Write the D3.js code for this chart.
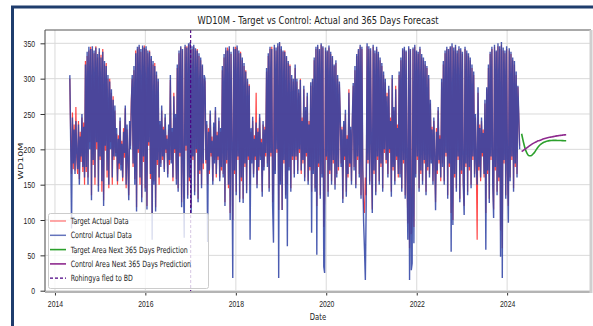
<!DOCTYPE html>
<meta charset="utf-8">
<style>

body { margin: 0; background: #fff; }
svg { display: block; font-family: "DejaVu Sans", sans-serif; }

.grid line {
  stroke: #dadada;
  stroke-width: 1;
}

.axis path { display: none; }
.axis line { stroke: #333; }
.axis text { fill: #222; font-size: 9.5px; }

</style>
<svg width="593" height="326"></svg>
<script src="https://d3js.org/d3.v7.min.js"></script>
<script>

// weekly values, each list runs from 1 May to late April of the next year
var seriesStart = "2014-05-01", stepDays = 7;

var control2014 = [305,210,88,245,180,228,165,240,195,172,235,150,218,190,250,175,232,160,
  320,175,338,150,345,200,342,128,346,185,340,160,344,210,335,140,343,190,330,155,338,120,325,205,318,170,305,150,296,200,285,160,270,190];
var control2015 = [262,190,230,155,215,180,245,170,208,160,225,195,262,150,235,185,128,240,200,
  265,305,180,318,150,336,112,345,200,348,160,342,125,347,190,344,140,346,115,340,210,338,165,332,72,325,150,318,112,310,185,300,160];
var control2016 = [240,175,262,190,228,168,250,200,215,160,235,185,305,180,230,160,275,200,250,150,
  320,140,340,195,346,118,342,175,75,348,205,344,130,350,160,352,110,346,190,348,135,343,200,340,125,336,170,330,145,320,180,305];
var control2017 = [300,185,240,69,225,170,255,195,212,150,238,180,260,165,220,190,245,155,230,175,
  318,160,335,120,344,185,340,150,346,100,338,205,18,345,170,342,135,347,190,340,125,336,160,330,124,322,180,310,138,300,190,290];
var control2018 = [72,230,180,246,160,215,190,238,145,225,175,250,185,210,133,240,170,228,195,
  315,175,336,140,345,195,342,120,68,348,165,344,200,350,18,352,150,346,114,340,185,338,130,332,63,325,170,318,140,305,190,300,160];
var control2019 = [320,190,300,165,285,200,298,170,240,185,290,155,260,195,280,150,235,175,295,82,
  300,165,330,140,345,51,348,180,342,130,350,160,346,34,25,344,190,340,133,347,170,338,150,332,185,320,143,326,160,305,175,296];
var control2020 = [250,175,228,124,240,190,256,133,215,165,280,180,232,150,245,
  294,170,318,145,335,190,342,160,348,130,345,175,97,58,15,128,350,185,346,150,343,200,110,348,170,340,135,345,190,338,150,330,180,322,140,310,200];
var control2021 = [300,185,275,160,290,200,240,133,305,175,260,150,285,190,230,165,
  310,160,330,140,343,185,345,130,340,175,72,346,15,342,29,39,344,67,348,160,340,190,338,140,345,170,335,150,330,185,325,135,318,175,305,160];
var control2022 = [270,180,228,150,245,195,114,225,170,260,185,215,160,
  300,175,325,150,340,195,345,130,342,180,346,55,350,93,344,165,348,140,340,190,346,125,343,170,338,150,107,345,180,340,135,336,175,330,145,320,190,310,160];
var control2023 = [250,180,150,288,175,230,160,245,195,223,165,270,58,
  288,170,320,124,338,190,345,150,103,348,175,340,135,350,160,346,48,352,18,344,185,340,130,346,170,96,343,155,338,190,330,140,325,180,310,160,290,250,200];

var target2014 = [300,218,165,252,172,235,170,260,188,165,240,158,225,182,245,168,238,150,
  325,168,332,160,340,210,345,135,342,178,336,150,346,200,330,148,338,185,334,140,342,128,320,198,322,160,300,145,300,210,280,150,275,185];
var target2015 = [255,195,222,150,220,172,240,178,212,155,230,188,258,145,228,178,135,235,205,
  270,300,175,312,158,340,118,342,195,345,150,338,132,344,182,347,145,342,120,336,205,340,158,328,110,320,155,322,118,305,178,296,150];
var target2016 = [235,180,255,185,232,172,245,195,220,165,228,178,298,185,225,155,280,195,245,158,
  315,145,336,190,344,125,340,168,130,345,198,346,135,348,155,350,118,342,185,345,140,340,195,342,130,332,165,326,150,318,172,300];
var target2017 = [295,180,235,150,230,165,250,190,218,155,232,185,255,160,225,185,240,160,225,170,
  312,165,330,125,340,180,344,145,342,110,335,200,100,342,165,345,140,344,185,336,130,338,155,326,130,318,175,312,142,296,185,292];
var target2018 = [150,225,185,240,165,220,185,280,150,230,170,245,190,215,140,235,175,232,190,
  310,180,332,145,342,190,345,125,150,344,170,340,195,346,114,350,155,342,114,338,180,340,135,330,150,322,175,320,145,300,185,296,165];
var target2019 = [315,185,296,170,280,195,300,165,245,180,285,160,255,190,275,155,240,170,290,140,
  296,170,326,145,342,120,345,175,340,135,348,165,344,90,130,340,185,338,140,344,165,335,155,330,180,318,150,322,165,300,170,292];
var target2020 = [245,180,232,130,235,185,250,140,220,160,285,175,228,155,240,
  290,175,312,150,332,185,340,165,345,135,342,170,120,110,160,135,346,180,342,155,340,195,115,345,165,336,140,342,185,335,155,326,175,318,145,305,195];
var target2021 = [295,180,280,165,285,195,245,140,300,170,255,155,290,185,235,160,
  305,165,326,145,340,180,342,135,338,170,95,343,60,340,80,110,342,90,345,165,338,185,335,145,342,165,330,155,326,180,320,140,315,170,300,165];
var target2022 = [265,185,232,155,240,190,125,230,165,255,180,220,155,
  295,180,320,155,336,190,342,135,340,175,344,110,346,100,340,160,345,145,336,185,342,130,340,165,335,155,120,342,175,336,140,332,170,326,150,315,185,305,165];
var target2023 = [245,185,72,280,170,235,155,240,190,228,160,265,110,
  285,165,315,130,335,185,342,155,115,345,170,338,140,346,155,342,85,348,60,340,180,336,135,342,165,120,340,160,335,185,326,145,320,175,305,165,288,245,205];

// next 365 days, one value every 15 days
var forecastStart = "2024-04-27", forecastStepDays = 15;
var targetForecast = [222,210,200,194,191,191,193,196,200,203.5,206.5,208.5,210,211,211.8,212.3,212.6,212.7,212.7,212.6,212.5,212.4,212.3,212.2,212.1];
var controlForecast = [197,198.5,200.5,202.5,204.5,206.3,208,209.5,210.8,212,213,214,214.9,215.7,216.4,217,217.5,218,218.5,219,219.4,219.8,220.1,220.4,220.6];

var eventDate = "2017-01-01";
var xTickYears = [2014, 2016, 2018, 2020, 2022, 2024];
var yTicks = [0, 50, 100, 150, 200, 250, 300, 350];
var legendItems = [
  {label: "Target Actual Data", color: "#ff1a1a", opacity: 0.5, width: 1.5, dash: null},
  {label: "Control Actual Data", color: "#3245a6", opacity: 0.75, width: 1.5, dash: null},
  {label: "Target Area Next 365 Days Prediction", color: "#2ca02c", opacity: 1, width: 1.6, dash: null},
  {label: "Control Area Next 365 Days Prediction", color: "#8e2a8e", opacity: 1, width: 1.6, dash: null},
  {label: "Rohingya fled to BD", color: "#4b0082", opacity: 1, width: 1.2, dash: "3,2"}
];

var svg = d3.select("svg"),
    plotLeft = 45, plotRight = 591, plotTop = 30, plotBottom = 292,
    sx = 0.72;   // the picture is squeezed sideways

var parse = d3.timeParse("%Y-%m-%d");

function weekly(values, start, step) {
  return values.map(function(v, i) {
    return {date: d3.timeDay.offset(parse(start), i * step), value: v};
  });
}

var control = weekly([].concat(control2014, control2015, control2016, control2017, control2018,
  control2019, control2020, control2021, control2022, control2023), seriesStart, stepDays);
var target = weekly([].concat(target2014, target2015, target2016, target2017, target2018,
  target2019, target2020, target2021, target2022, target2023), seriesStart, stepDays);
var tFore = weekly(targetForecast, forecastStart, forecastStepDays);
var cFore = weekly(controlForecast, forecastStart, forecastStepDays);

var all = control.concat(target, tFore, cFore);
var dExt = d3.extent(all, function(d) { return +d.date; }),
    vExt = d3.extent(all, function(d) { return d.value; });
var dPad = (dExt[1] - dExt[0]) * 0.05, vPad = (vExt[1] - vExt[0]) * 0.05;

var x = d3.scaleTime()
    .domain([new Date(dExt[0] - dPad), new Date(dExt[1] + dPad)])
    .range([plotLeft, plotRight]);
var y = d3.scaleLinear()
    .domain([vExt[0] - vPad, vExt[1] + vPad])
    .range([plotBottom, plotTop]);

// outer frame
svg.append("rect")
    .attr("x", 12.5).attr("y", 7)
    .attr("width", 700).attr("height", 400)
    .attr("fill", "none")
    .attr("stroke", "#1f3d6d")
    .attr("stroke-width", 3);

svg.append("clipPath").attr("id", "plot")
  .append("rect")
    .attr("x", plotLeft).attr("y", plotTop)
    .attr("width", plotRight - plotLeft).attr("height", plotBottom - plotTop);

var xDates = xTickYears.map(function(yr) { return new Date(yr, 0, 1); });

// grid
var grid = svg.append("g").attr("class", "grid");
grid.selectAll(".gx").data(xDates).enter().append("line")
    .attr("x1", function(d) { return x(d); }).attr("x2", function(d) { return x(d); })
    .attr("y1", plotTop).attr("y2", plotBottom);
grid.selectAll(".gy").data(yTicks).enter().append("line")
    .attr("x1", plotLeft).attr("x2", plotRight)
    .attr("y1", function(d) { return y(d); }).attr("y2", function(d) { return y(d); });

var line = d3.line()
    .x(function(d) { return x(d.date); })
    .y(function(d) { return y(d.value); });
var smooth = d3.line()
    .curve(d3.curveMonotoneX)
    .x(function(d) { return x(d.date); })
    .y(function(d) { return y(d.value); });

var plot = svg.append("g").attr("clip-path", "url(#plot)");

plot.append("path").datum(target)
    .attr("fill", "none")
    .attr("stroke", "#ff1a1a")
    .attr("stroke-opacity", 0.8)
    .attr("stroke-width", 1.2)
    .attr("d", line);

plot.append("path").datum(control)
    .attr("fill", "none")
    .attr("stroke", "#3245a6")
    .attr("stroke-opacity", 0.88)
    .attr("stroke-width", 1.4)
    .attr("d", line);

plot.append("path").datum(tFore)
    .attr("fill", "none")
    .attr("stroke", "#2ca02c")
    .attr("stroke-width", 1.6)
    .attr("d", smooth);

plot.append("path").datum(cFore)
    .attr("fill", "none")
    .attr("stroke", "#8e2a8e")
    .attr("stroke-width", 1.6)
    .attr("d", smooth);

plot.append("line")
    .attr("x1", x(parse(eventDate))).attr("x2", x(parse(eventDate)))
    .attr("y1", plotTop).attr("y2", plotBottom)
    .attr("stroke", "#4b0082")
    .attr("stroke-width", 1.1)
    .attr("stroke-dasharray", "3,2");

// axes
var xAxis = svg.append("g")
    .attr("class", "axis")
    .attr("transform", "translate(0," + plotBottom + ")")
    .call(d3.axisBottom(x).tickValues(xDates).tickFormat(d3.timeFormat("%Y"))
      .tickSize(3.5).tickPadding(5).tickSizeOuter(0));
xAxis.selectAll("text").attr("transform", "scale(" + sx + ",1)");

var yAxis = svg.append("g")
    .attr("class", "axis")
    .attr("transform", "translate(" + plotLeft + ",0)")
    .call(d3.axisLeft(y).tickValues(yTicks).tickSize(4.5).tickSizeOuter(0));
yAxis.selectAll("text")
    .attr("x", -10 / sx)
    .attr("transform", "scale(" + sx + ",1)");

// spines
svg.append("line").attr("x1", plotLeft).attr("x2", plotLeft).attr("y1", plotTop).attr("y2", plotBottom)
    .attr("stroke", "#444").attr("stroke-width", 1);
svg.append("line").attr("x1", plotLeft).attr("x2", plotRight).attr("y1", plotTop).attr("y2", plotTop)
    .attr("stroke", "#555").attr("stroke-width", 1);
svg.append("line").attr("x1", plotLeft).attr("x2", plotRight).attr("y1", plotBottom).attr("y2", plotBottom)
    .attr("stroke", "#b4b4b4").attr("stroke-width", 2);
svg.append("line").attr("x1", plotRight).attr("x2", plotRight).attr("y1", plotTop).attr("y2", plotBottom + 1)
    .attr("stroke", "#cfcfcf").attr("stroke-width", 3);

// title and labels
svg.append("text")
    .attr("x", (plotLeft + plotRight) / 2).attr("y", 24)
    .attr("text-anchor", "middle")
    .attr("font-size", 10)
    .attr("fill", "#222")
    .attr("textLength", 241)
    .attr("lengthAdjust", "spacingAndGlyphs")
    .text("WD10M - Target vs Control: Actual and 365 Days Forecast");

svg.append("text")
    .attr("transform", "translate(" + (plotLeft + plotRight) / 2 + ",320) scale(" + sx + ",1)")
    .attr("text-anchor", "middle")
    .attr("font-size", 9.5)
    .attr("fill", "#222")
    .text("Date");

svg.append("text")
    .attr("transform", "translate(23," + (plotTop + plotBottom) / 2 + ") scale(" + sx + ",1) rotate(-90)")
    .attr("text-anchor", "middle")
    .attr("font-size", 9.5)
    .attr("fill", "#222")
    .text("WD10M");

// legend
var legend = svg.append("g");
legend.append("rect")
    .attr("x", 48.5).attr("y", 213.5)
    .attr("width", 160).attr("height", 75)
    .attr("rx", 2)
    .attr("fill", "#fff").attr("fill-opacity", 0.8)
    .attr("stroke", "#cccccc");

var row = legend.selectAll(".row").data(legendItems).enter().append("g")
    .attr("transform", function(d, i) { return "translate(0," + (221 + i * 14.3) + ")"; });
row.append("line")
    .attr("x1", 50).attr("x2", 66)
    .attr("stroke", function(d) { return d.color; })
    .attr("stroke-opacity", function(d) { return d.opacity; })
    .attr("stroke-width", function(d) { return d.width; })
    .attr("stroke-dasharray", function(d) { return d.dash; });
row.append("text")
    .attr("transform", "translate(70.7,0) scale(" + sx + ",1)")
    .attr("dy", "0.35em")
    .attr("font-size", 8.7)
    .attr("fill", "#222")
    .text(function(d) { return d.label; });

</script>
